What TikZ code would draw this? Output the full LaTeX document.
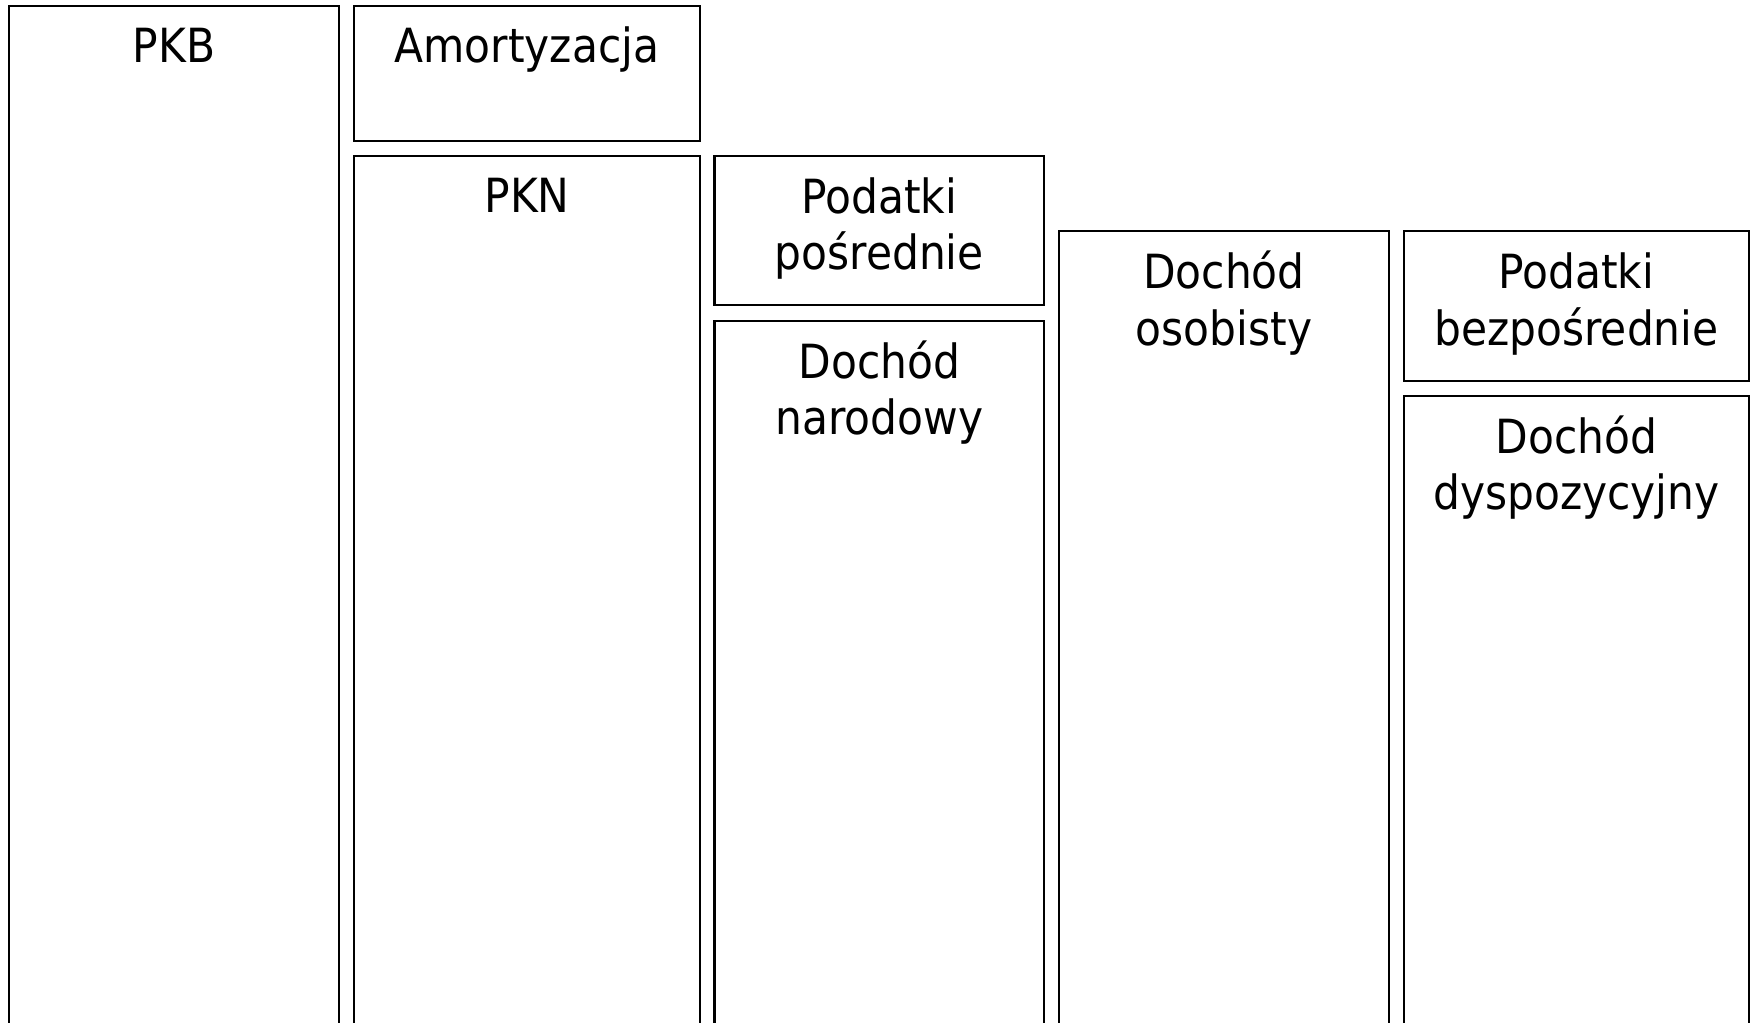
\documentclass[tikz,border=0pt]{standalone}
\usepackage{fontspec}
\setmainfont{DejaVu Sans Condensed}
\begin{document}
\begin{tikzpicture}[
    box/.style={draw, line width=0.65pt, anchor=north west, inner sep=0pt, outer sep=0pt},
    lbl/.style={anchor=base, align=center, inner sep=0pt, font=\fontsize{13.4}{16.2}\selectfont}]
      \clip (0,0) rectangle (17.52,-10.23);
      \node[box, minimum width=3.30cm, minimum height=11cm] (pkb) at (0.09,-0.057) {};
      \node[box, minimum width=3.46cm, minimum height=1.35cm] (amort) at (3.54,-0.057) {};
      \node[box, minimum width=3.46cm, minimum height=11cm] (pkn) at (3.54,-1.56) {};
      \node[box, minimum width=3.295cm, minimum height=1.49cm] (posr) at (7.145,-1.56) {};
      \node[box, minimum width=3.295cm, minimum height=11cm] (narod) at (7.145,-3.21) {};
      \node[box, minimum width=3.30cm, minimum height=11cm] (osob) at (10.59,-2.313) {};
      \node[box, minimum width=3.45cm, minimum height=1.497cm] (bezp) at (14.04,-2.313) {};
      \node[box, minimum width=3.45cm, minimum height=11cm] (dysp) at (14.04,-3.96) {};
      \node[lbl] (tpkb) at ([yshift=-0.566cm]pkb.north) {PKB};
      \node[lbl] (tamort) at ([yshift=-0.566cm]amort.north) {Amortyzacja};
      \node[lbl] (tpkn) at ([yshift=-0.566cm]pkn.north) {PKN};
      \node[lbl] (tposr) at ([yshift=-1.14cm]posr.north) {Podatki\\pośrednie};
      \node[lbl] (tnarod) at ([yshift=-1.14cm]narod.north) {Dochód\\narodowy};
      \node[lbl] (tosob) at ([yshift=-1.14cm]osob.north) {Dochód\\osobisty};
      \node[lbl] (tbezp) at ([yshift=-1.14cm]bezp.north) {Podatki\\bezpośrednie};
      \node[lbl] (tdysp) at ([yshift=-1.14cm]dysp.north) {Dochód\\dyspozycyjny};
    \end{tikzpicture}
\end{document}
